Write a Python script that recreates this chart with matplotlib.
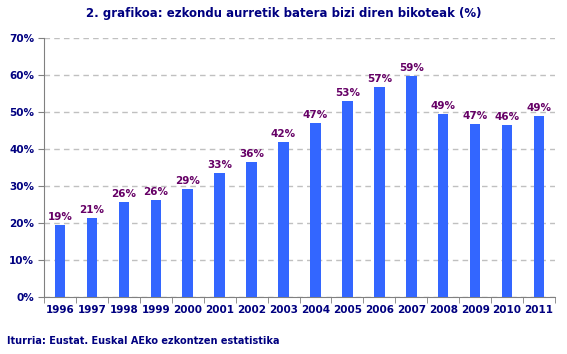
import matplotlib
matplotlib.use("Agg")
import matplotlib.pyplot as plt

years = ["1996", "1997", "1998", "1999", "2000", "2001", "2002", "2003",
         "2004", "2005", "2006", "2007", "2008", "2009", "2010", "2011"]
values = [19.4, 21.3, 25.7, 26.2, 29.2, 33.5, 36.5, 41.9,
          47.0, 53.0, 56.8, 59.7, 49.4, 46.8, 46.4, 48.9]
labels = ["19%", "21%", "26%", "26%", "29%", "33%", "36%", "42%",
          "47%", "53%", "57%", "59%", "49%", "47%", "46%", "49%"]
yticks = [0, 10, 20, 30, 40, 50, 60, 70]

navy = "#000080"
fig = plt.figure(figsize=(5.67, 3.54), dpi=100)
ax = fig.add_axes([44/567, 57/354, 511/567, 259/354])
x = list(range(len(years)))
ax.bar(x, values, width=0.33, color="#3366FF", zorder=3)
for xi, v, lab in zip(x, values, labels):
    ax.text(xi, v + 0.8, lab, ha="center", va="bottom", fontsize=7.5,
            fontweight="bold", color="#660066", zorder=4)
ax.set_xlim(-0.5, len(years) - 0.5)
ax.set_ylim(0, 70)
ax.set_yticks(yticks)
ax.set_yticklabels([f"{t}%" for t in yticks], fontsize=7.5, fontweight="bold", color=navy)
ax.set_xticks(x)
ax.set_xticklabels(years, fontsize=7.5, fontweight="bold", color=navy)
ax.set_xticks([i - 0.5 for i in range(len(years) + 1)], minor=True)
ax.tick_params(axis="x", which="major", length=0, pad=6)
ax.tick_params(axis="x", which="minor", length=4, color="#808080")
ax.tick_params(axis="y", length=4, color="#808080", pad=3)
ax.yaxis.grid(True, linestyle=(0, (4, 3)), color="#c0c0c0", linewidth=1, zorder=0)
for s in ["top", "right"]:
    ax.spines[s].set_visible(False)
ax.spines["left"].set_color("#808080")
ax.spines["bottom"].set_color("#808080")
fig.text(0.5, 1 - 13/354, "2. grafikoa: ezkondu aurretik batera bizi diren bikoteak (%)",
         ha="center", va="center", fontsize=8.5, fontweight="bold", color=navy)
fig.text(7/567, 1 - 341/354, "Iturria: Eustat. Euskal AEko ezkontzen estatistika",
         ha="left", va="center", fontsize=7, fontweight="bold", color=navy)
fig.savefig("out.png", dpi=100)
